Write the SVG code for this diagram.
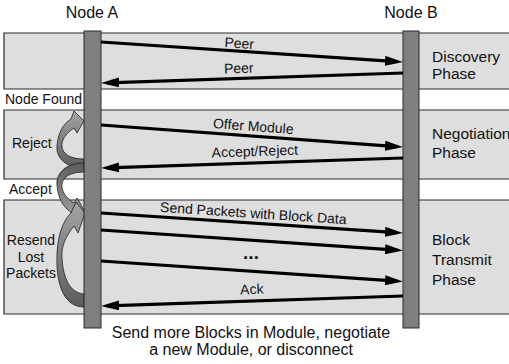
<svg xmlns="http://www.w3.org/2000/svg" width="509" height="364" viewBox="0 0 509 364">
  <style>
    text { font-family: "Liberation Sans", Arial, Helvetica, sans-serif; fill: #111; }
    .band { fill: #dedede; stroke: #2a2a2a; stroke-width: 1.2; }
    .bar { fill: #7f7f7f; stroke: #2a2a2a; stroke-width: 1; }
    .msg { stroke: #000; stroke-width: 3.2; fill: none; marker-end: url(#head); }
    .curl { stroke: #1e1e1e; stroke-width: 0.8; }
    .lbl { font-size: 14px; text-anchor: middle; }
    .dots { font-size: 19px; font-weight: bold; text-anchor: middle; }
    .side { font-size: 14px; }
    .phase { font-size: 15.5px; }
    .title { font-size: 16px; text-anchor: middle; }
  </style>
  <defs>
    <marker id="head" markerUnits="userSpaceOnUse" markerWidth="18" markerHeight="10" refX="12" refY="5" orient="auto">
      <path d="M0,0 L18,5 L0,10 Z" fill="#000"/>
    </marker>
    <linearGradient id="upFade" x1="0" y1="0" x2="0" y2="1">
      <stop offset="0" stop-color="#a4a4a4"/>
      <stop offset="1" stop-color="#5c5c5c"/>
    </linearGradient>
    <linearGradient id="downFade" x1="0" y1="0" x2="0" y2="1">
      <stop offset="0" stop-color="#5c5c5c"/>
      <stop offset="1" stop-color="#a4a4a4"/>
    </linearGradient>
  </defs>

  <!-- phase bands -->
  <g id="phase-discovery">
    <path class="band" d="M510,33 H4 V89 H510"/>
    <text class="phase" x="432" y="62">Discovery</text>
    <text class="phase" x="432" y="79">Phase</text>
  </g>
  <g id="phase-negotiation">
    <path class="band" d="M510,110 H4 V179 H510"/>
    <text class="phase" x="432" y="139">Negotiation</text>
    <text class="phase" x="432" y="158">Phase</text>
  </g>
  <g id="phase-transmit">
    <path class="band" d="M510,200 H4 V314 H510"/>
    <text class="phase" x="432" y="245">Block</text>
    <text class="phase" x="432" y="265">Transmit</text>
    <text class="phase" x="432" y="285">Phase</text>
  </g>

  <!-- side labels -->
  <g id="label-node-found"><text class="side" x="5" y="104">Node Found</text></g>
  <g id="label-reject"><text class="side" x="12" y="148">Reject</text></g>
  <g id="label-accept"><text class="side" x="9" y="194">Accept</text></g>
  <g id="label-resend">
    <text class="side" x="31" y="245" text-anchor="middle">Resend</text>
    <text class="side" x="31" y="262" text-anchor="middle">Lost</text>
    <text class="side" x="31" y="278" text-anchor="middle">Packets</text>
  </g>

  <!-- loop-back arrows beside Node A -->
  <g id="loop-reject">
    <path class="curl" fill="url(#upFade)" d="M84,168 C66,168 56,158 57,146 C58,133 63,124 71,119 L74,111 L84,121 L77,133 L74,128 C66,133 61,140 62,147 C63,154 70,159 84,159 Z"/>
  </g>
  <g id="loop-accept">
    <path class="curl" fill="url(#downFade)" d="M84,163 C66,163 56,173 57,185 C58,198 63,207 71,212 L74,220 L84,210 L77,198 L74,203 C66,198 61,191 62,184 C63,177 70,172 84,172 Z"/>
  </g>
  <g id="loop-resend">
    <path class="curl" fill="url(#upFade)" d="M84,307 C62,307 56,280 57,255 C58,232 64,220 71,213 L76,202 L85,213 L78,233 L74,226 C66,236 61,246 62,258 C63,278 70,293 84,294 Z"/>
  </g>

  <!-- lifelines -->
  <g id="node-a">
    <text class="title" x="92" y="18">Node A</text>
    <rect class="bar" x="84" y="31" width="17" height="297"/>
  </g>
  <g id="node-b">
    <text class="title" x="411" y="18">Node B</text>
    <rect class="bar" x="403" y="31" width="16" height="297"/>
  </g>

  <!-- messages -->
  <g id="connectors">
    <line class="msg" x1="101" y1="42" x2="397" y2="61.6"/>
    <line class="msg" x1="403" y1="73" x2="107" y2="82.8"/>
    <line class="msg" x1="101" y1="125" x2="397" y2="146.6"/>
    <line class="msg" x1="403" y1="158" x2="107" y2="167.8"/>
    <line class="msg" x1="101" y1="213" x2="397" y2="232.6"/>
    <line class="msg" x1="101" y1="230" x2="397" y2="250.1"/>
    <line class="msg" x1="101" y1="261" x2="397" y2="281.1"/>
    <line class="msg" x1="403" y1="296" x2="107" y2="305.8"/>

    <text class="lbl" x="239" y="48" transform="rotate(3.8 239 48)">Peer</text>
    <text class="lbl" x="239" y="73" transform="rotate(-1.9 239 73)">Peer</text>
    <text class="lbl" x="253" y="131" transform="rotate(4.2 253 131)">Offer Module</text>
    <text class="lbl" x="255" y="156" transform="rotate(-1.9 255 156)">Accept/Reject</text>
    <text class="lbl" x="253" y="218" transform="rotate(3.8 253 218)">Send Packets with Block Data</text>
    <text class="dots" x="251" y="259">...</text>
    <text class="lbl" x="252" y="294" transform="rotate(-1.9 252 294)">Ack</text>
  </g>

  <g id="note">
    <text class="title" x="251" y="338">Send more Blocks in Module, negotiate</text>
    <text class="title" x="251" y="355">a new Module, or disconnect</text>
  </g>
</svg>
